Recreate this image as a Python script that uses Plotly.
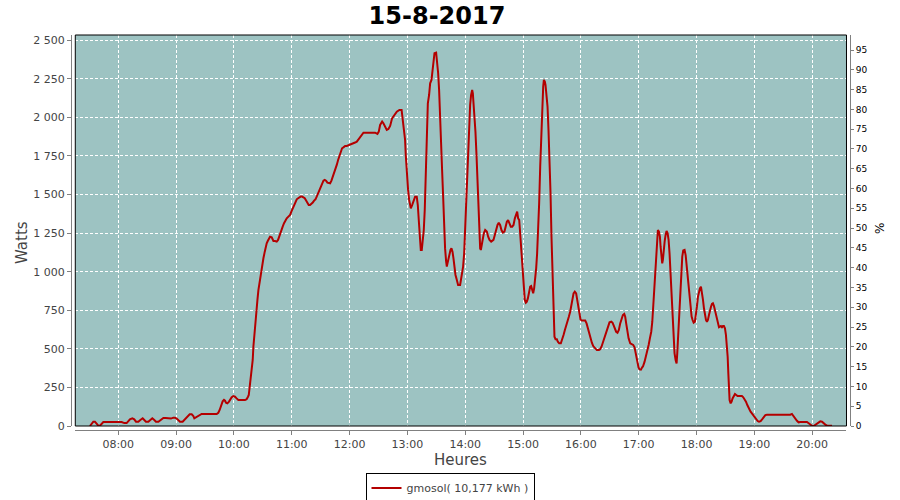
import plotly.graph_objects as go

DAY = "2017-08-15 "

times = [
    "07:30:36", "07:32:24", "07:34:06", "07:35:48", "07:37:30", "07:39:18", "07:41:00", "07:42:42", "07:44:30",
    "08:03:30", "08:06:18", "08:08:42", "08:10:24", "08:12:06", "08:14:36", "08:16:36", "08:18:24", "08:20:48",
    "08:22:54", "08:25:18", "08:27:00", "08:28:42", "08:31:12", "08:33:36", "08:35:18", "08:37:24", "08:39:06",
    "08:41:36", "08:44:18", "08:46:48", "08:49:12", "08:51:54", "08:54:42", "08:57:06", "08:58:54", "09:00:36",
    "09:02:18", "09:04:00", "09:06:48", "09:09:12", "09:11:42", "09:14:06", "09:16:12", "09:17:54", "09:18:54",
    "09:20:18", "09:22:24", "09:24:48", "09:26:30", "09:42:06", "09:43:48", "09:45:12", "09:46:18", "09:47:18",
    "09:48:18", "09:49:42", "09:50:48", "09:51:48", "09:53:12", "09:54:54", "09:56:18", "09:57:42", "09:59:24",
    "10:01:06", "10:02:48", "10:04:36", "10:11:30", "10:13:12", "10:14:36", "10:15:24", "10:16:24", "10:17:24",
    "10:18:30", "10:19:30", "10:20:12", "10:21:12", "10:22:18", "10:23:18", "10:24:24", "10:25:24", "10:26:24",
    "10:27:30", "10:28:30", "10:29:30", "10:30:36", "10:32:00", "10:33:00", "10:34:00", "10:35:06", "10:36:06",
    "10:37:30", "10:39:12", "10:41:00", "10:42:42", "10:44:24", "10:45:48", "10:46:48", "10:47:54", "10:49:18",
    "10:50:36", "10:52:00", "10:53:24", "10:54:48", "10:56:30", "10:58:18", "10:59:36", "11:01:00", "11:02:24",
    "11:03:48", "11:05:12", "11:06:36", "11:07:54", "11:09:18", "11:10:42", "11:12:06", "11:13:30", "11:14:54",
    "11:16:18", "11:17:36", "11:19:00", "11:20:24", "11:21:48", "11:23:12", "11:24:36", "11:25:54", "11:27:18",
    "11:28:42", "11:30:06", "11:31:30", "11:32:54", "11:34:12", "11:35:36", "11:37:00", "11:38:24", "11:39:48",
    "11:41:12", "11:42:30", "11:43:54", "11:45:18", "11:46:42", "11:48:06", "11:49:30", "11:50:54", "11:52:12",
    "11:53:36", "11:55:24", "11:57:06", "11:58:48", "12:00:30", "12:02:18", "12:04:00", "12:05:42", "12:07:30",
    "12:08:54", "12:10:12", "12:11:36", "12:13:00", "12:14:24", "12:21:18", "12:26:30", "12:28:54", "12:30:18",
    "12:31:42", "12:33:48", "12:35:06", "12:36:54", "12:38:36", "12:40:18", "12:42:06", "12:44:06", "12:46:12",
    "12:49:00", "12:51:42", "12:54:00", "12:55:12", "12:56:36", "12:57:36", "12:58:18", "12:59:00", "12:59:42",
    "13:00:42", "13:01:48", "13:03:30", "13:04:54", "13:06:18", "13:08:00", "13:09:42", "13:10:48", "13:11:48",
    "13:12:48", "13:13:54", "13:14:54", "13:16:00", "13:17:00", "13:18:00", "13:18:42", "13:19:24", "13:20:06",
    "13:21:12", "13:22:30", "13:23:36", "13:25:00", "13:26:00", "13:27:00", "13:28:06", "13:29:48", "13:30:48",
    "13:31:54", "13:32:54", "13:34:00", "13:35:00", "13:36:00", "13:37:06", "13:38:06", "13:39:06", "13:40:12",
    "13:40:54", "13:41:36", "13:42:36", "13:43:36", "13:44:42", "13:45:42", "13:46:48", "13:47:48", "13:48:48",
    "13:49:54", "13:51:18", "13:52:36", "13:54:42", "13:55:42", "13:56:48", "13:57:48", "13:58:54", "13:59:54",
    "14:00:54", "14:02:00", "14:03:00", "14:04:06", "14:05:06", "14:06:06", "14:07:12", "14:07:54", "14:08:36",
    "14:09:36", "14:10:36", "14:11:42", "14:12:42", "14:13:42", "14:14:48", "14:15:30", "14:16:12", "14:17:12",
    "14:18:12", "14:19:18", "14:20:42", "14:22:24", "14:23:48", "14:25:12", "14:26:54", "14:29:18", "14:30:42",
    "14:32:06", "14:33:30", "14:34:48", "14:36:12", "14:37:36", "14:39:00", "14:40:42", "14:42:06", "14:43:12",
    "14:44:30", "14:45:54", "14:47:18", "14:48:42", "14:50:06", "14:51:30", "14:52:48", "14:53:54", "14:54:54",
    "14:56:00", "14:57:00", "14:58:00", "14:59:06", "15:00:06", "15:01:12", "15:01:48", "15:02:54", "15:03:54",
    "15:05:00", "15:06:18", "15:07:24", "15:08:24", "15:09:30", "15:10:30", "15:11:30", "15:12:36", "15:13:36",
    "15:14:36", "15:15:42", "15:16:42", "15:17:48", "15:18:48", "15:19:48", "15:20:54", "15:21:36", "15:22:36",
    "15:23:18", "15:24:18", "15:25:24", "15:26:24", "15:27:24", "15:28:30", "15:29:30", "15:30:36", "15:31:12",
    "15:31:36", "15:32:36", "15:33:42", "15:35:06", "15:36:06", "15:37:30", "15:39:12", "15:40:36", "15:42:00",
    "15:43:24", "15:44:42", "15:46:06", "15:47:30", "15:48:54", "15:50:18", "15:51:18", "15:52:24", "15:53:42",
    "15:55:06", "15:56:12", "15:57:36", "15:58:36", "15:59:36", "16:01:00", "16:04:30", "16:05:54", "16:07:12",
    "16:08:36", "16:10:00", "16:11:24", "16:12:48", "16:14:30", "16:16:36", "16:18:42", "16:20:00", "16:21:24",
    "16:22:48", "16:24:12", "16:25:36", "16:27:00", "16:28:18", "16:29:42", "16:31:30", "16:32:48", "16:33:54",
    "16:35:18", "16:36:36", "16:38:00", "16:39:24", "16:40:48", "16:42:12", "16:43:36", "16:45:00", "16:46:00",
    "16:47:00", "16:48:06", "16:49:30", "16:51:12", "16:52:54", "16:54:18", "16:55:42", "16:56:42", "16:57:48",
    "16:58:48", "16:59:48", "17:00:54", "17:02:18", "17:03:36", "17:04:24", "17:06:06", "17:07:30", "17:08:54",
    "17:10:18", "17:11:36", "17:13:00", "17:14:06", "17:15:06", "17:16:06", "17:17:12", "17:18:12", "17:19:12",
    "17:19:54", "17:21:00", "17:22:00", "17:22:42", "17:23:24", "17:24:24", "17:25:06", "17:25:48", "17:26:54",
    "17:27:54", "17:28:54", "17:30:00", "17:31:00", "17:32:00", "17:33:06", "17:34:06", "17:35:12", "17:36:12",
    "17:37:12", "17:38:18", "17:39:18", "17:40:00", "17:41:00", "17:42:06", "17:43:06", "17:44:12", "17:45:12",
    "17:46:12", "17:47:36", "17:48:42", "17:49:42", "17:50:42", "17:51:48", "17:52:48", "17:53:48", "17:54:54",
    "17:55:54", "17:57:00", "17:58:18", "17:59:24", "18:00:24", "18:01:30", "18:02:30", "18:03:30", "18:04:36",
    "18:05:36", "18:06:42", "18:07:42", "18:08:42", "18:09:48", "18:10:48", "18:11:48", "18:12:54", "18:13:54",
    "18:15:00", "18:16:00", "18:17:00", "18:18:06", "18:19:06", "18:20:06", "18:21:12", "18:22:12", "18:23:18",
    "18:24:18", "18:25:18", "18:26:24", "18:27:24", "18:28:24", "18:29:30", "18:30:30", "18:31:36", "18:32:18",
    "18:33:00", "18:33:36", "18:34:18", "18:35:24", "18:36:24", "18:37:24", "18:38:30", "18:39:54", "18:41:12",
    "18:42:36", "18:44:00", "18:45:24", "18:47:06", "18:48:30", "18:49:54", "18:51:18", "18:52:42", "18:53:42",
    "18:54:42", "18:56:06", "18:57:30", "18:58:54", "19:00:18", "19:01:42", "19:03:24", "19:04:48", "19:06:30",
    "19:08:12", "19:09:36", "19:11:24", "19:13:06", "19:37:18", "19:39:00", "19:40:48", "19:42:30", "19:44:12",
    "19:45:54", "19:47:42", "19:54:36", "19:56:18", "19:58:06", "19:59:48", "20:01:30", "20:03:18", "20:05:00",
    "20:06:42", "20:08:24", "20:10:12", "20:11:54", "20:13:36", "20:15:24", "20:20:36",
]

watts = [
    0, 17, 28, 28, 13, 2, 2, 13, 26,
    26, 19, 19, 30, 43, 50, 43, 28, 28,
    39, 50, 39, 28, 28, 39, 50, 39, 28,
    28, 43, 52, 52, 48, 48, 54, 54, 48,
    35, 28, 28, 43, 60, 76, 76, 65, 50,
    56, 65, 73, 78, 78, 86, 104, 125, 147,
    160, 169, 164, 151, 147, 158, 173, 186, 194,
    190, 179, 169, 169, 173, 190, 201, 255, 309,
    363, 428, 514, 601, 676, 741, 817, 881, 925,
    968, 1011, 1043, 1087, 1130, 1162, 1184, 1199, 1216,
    1227, 1223, 1199, 1199, 1195, 1206, 1227, 1249, 1270,
    1292, 1314, 1335, 1346, 1357, 1368, 1389, 1411, 1432,
    1454, 1469, 1476, 1482, 1487, 1487, 1482, 1476, 1461,
    1443, 1432, 1432, 1439, 1448, 1461, 1469, 1487, 1508,
    1534, 1556, 1573, 1590, 1595, 1590, 1577, 1573, 1573,
    1590, 1612, 1638, 1664, 1692, 1724, 1750, 1778, 1800,
    1806, 1815, 1815, 1819, 1821, 1828, 1832, 1837, 1843,
    1854, 1867, 1880, 1893, 1901, 1901, 1901, 1893, 1908,
    1951, 1973, 1962, 1936, 1919, 1925, 1945, 1994, 2016,
    2037, 2048, 2048, 1983, 1919, 1854, 1757, 1681, 1616,
    1530, 1465, 1411, 1432, 1454, 1486, 1486, 1432, 1335,
    1249, 1141, 1141, 1206, 1270, 1400, 1573, 1746, 1897,
    2091, 2145, 2221, 2243, 2297, 2351, 2416, 2420, 2362,
    2286, 2178, 2027, 1854, 1659, 1486, 1303, 1151, 1065,
    1033, 1054, 1087, 1119, 1141, 1151, 1130, 1087, 1022,
    979, 946, 914, 914, 946, 989, 1033, 1119, 1270,
    1422, 1616, 1811, 1962, 2081, 2145, 2178, 2156, 2102,
    2027, 1908, 1757, 1573, 1422, 1249, 1151, 1141, 1173,
    1216, 1249, 1270, 1260, 1227, 1206, 1195, 1206, 1238,
    1275, 1303, 1318, 1303, 1270, 1253, 1260, 1303, 1324,
    1335, 1314, 1292, 1292, 1303, 1346, 1378, 1389, 1346,
    1335, 1249, 1162, 1065, 968, 871, 817, 799, 806,
    827, 871, 903, 907, 871, 860, 892, 946, 1022,
    1119, 1249, 1443, 1681, 1897, 2070, 2199, 2243, 2232,
    2210, 2156, 2070, 1919, 1746, 1508, 1227, 968, 773,
    644, 579, 562, 562, 546, 536, 536, 557, 590,
    622, 655, 676, 708, 741, 784, 827, 860, 871,
    860, 817, 763, 730, 691, 683, 683, 665, 633,
    600, 568, 540, 518, 503, 492, 492, 497, 514,
    540, 568, 600, 626, 654, 672, 676, 670, 654,
    626, 611, 605, 622, 665, 698, 719, 726, 708,
    665, 611, 568, 536, 531, 525, 510, 475, 438,
    406, 380, 367, 365, 380, 386, 417, 449, 493,
    525, 568, 611, 676, 773, 903, 1022, 1141, 1238,
    1270, 1260, 1227, 1162, 1087, 1054, 1076, 1141, 1195,
    1238, 1264, 1249, 1206, 1119, 990, 838, 687, 579,
    471, 428, 406, 471, 601, 709, 838, 968, 1098,
    1137, 1141, 1108, 1044, 936, 881, 827, 763, 709,
    687, 670, 676, 719, 773, 838, 871, 892, 903,
    871, 817, 763, 709, 687, 676, 687, 719, 752,
    773, 791, 795, 778, 752, 719, 687, 655, 640,
    644, 648, 640, 648, 648, 633, 590, 525, 449,
    341, 244, 168, 147, 158, 179, 194, 207, 201,
    194, 194, 196, 194, 186, 173, 158, 136, 121,
    104, 93, 82, 71, 56, 43, 32, 28, 32,
    45, 60, 71, 73, 73, 78, 60, 45, 34,
    24, 26, 26, 17, 9, 2, 0, 9, 17,
    24, 30, 28, 17, 9, 2, 2,
]

hour_ticks = ["08:00", "09:00", "10:00", "11:00", "12:00", "13:00", "14:00",
              "15:00", "16:00", "17:00", "18:00", "19:00", "20:00"]

title_text = "15-8-2017"
series_name = "gmosol( 10,177 kWh )"

x = [DAY + t for t in times]

fig = go.Figure()
fig.add_trace(go.Scatter(
    x=x, y=watts, mode="lines", name=series_name,
    line=dict(color="#b40000", width=2),
))
# invisible trace to activate the right (%) axis
fig.add_trace(go.Scatter(x=[x[0]], y=[None], yaxis="y2", showlegend=False,
                         hoverinfo="skip", mode="lines"))

FONT = "DejaVu Sans"
GREY = "#808080"

fig.update_layout(
    width=900, height=500,
    margin=dict(l=71, r=50, t=35, b=70, autoexpand=False),
    paper_bgcolor="white",
    plot_bgcolor="#9dc3c2",
    separators=", ",
    font=dict(family=FONT, size=11, color="#444444"),
    title=dict(text="<b>" + title_text + "</b>", x=437 / 900, xanchor="center",
               y=0.968, yanchor="middle", yref="container",
               font=dict(family=FONT, size=24, color="black")),
    xaxis=dict(
        type="date",
        domain=[0.0055, 0.9955],
        anchor="free", position=0,
        automargin=False,
        range=[DAY + "07:15:24", DAY + "20:35:36"],
        tickvals=[DAY + h for h in hour_ticks],
        ticktext=hour_ticks,
        ticks="outside", ticklen=4, tickcolor=GREY,
        showline=True, linecolor=GREY, linewidth=1,
        showgrid=True, gridcolor="white", griddash="3px,2px", gridwidth=1,
        zeroline=False,
        tickfont=dict(family=FONT, size=11, color="#444444"),
    ),
    yaxis=dict(
        domain=[0.0101, 1],
        anchor="free", position=0,
        automargin=False,
        range=[0, 2534], dtick=250, tick0=0,
        separatethousands=True,
        ticks="outside", ticklen=4, tickcolor=GREY,
        showline=True, linecolor=GREY, linewidth=1,
        showgrid=True, gridcolor="white", griddash="3px,2px", gridwidth=1,
        zeroline=False,
        tickfont=dict(family=FONT, size=11, color="#444444"),
    ),
    yaxis2=dict(
        overlaying="y", side="right",
        anchor="free", position=1,
        automargin=False,
        range=[0, 98.8], dtick=5, tick0=0,
        ticks="outside", ticklen=3, tickcolor=GREY,
        showline=True, linecolor=GREY, linewidth=1,
        showgrid=False, zeroline=False,
        tickfont=dict(family=FONT, size=9, color="black"),
    ),
    legend=dict(
        orientation="h", x=(450 - 71) / 779, xanchor="center", y=(430 - 488) / 395, yanchor="middle",
        xref="paper", yref="paper",
        bordercolor="black", borderwidth=1, bgcolor="white",
        font=dict(family=FONT, size=11, color="#444444"),
        itemwidth=30,
    ),
    showlegend=True,
    shapes=[dict(type="rect", xref="x domain", yref="y domain", x0=0, x1=1, y0=0, y1=1,
                 line=dict(color="black", width=1), fillcolor="rgba(0,0,0,0)", layer="above")],
    annotations=[
        dict(text="Watts", xref="paper", yref="paper", x=(22 - 71) / 779, y=(430 - 243) / 395,
             showarrow=False, textangle=-90, xanchor="center", yanchor="middle",
             font=dict(family=FONT, size=15, color="#444444")),
        dict(text="Heures", xref="paper", yref="paper", x=(460 - 71) / 779, y=(430 - 460) / 395,
             showarrow=False, xanchor="center", yanchor="middle",
             font=dict(family=FONT, size=15, color="#444444")),
        dict(text="%", xref="paper", yref="paper", x=(880 - 71) / 779, y=(430 - 229) / 395,
             showarrow=False, textangle=-90, xanchor="center", yanchor="middle",
             font=dict(family=FONT, size=12, color="black")),
    ],
)

fig.write_html("out.html",
               config={"displayModeBar": False},
               post_script="document.body.style.margin='0';document.body.style.overflow='hidden';")
